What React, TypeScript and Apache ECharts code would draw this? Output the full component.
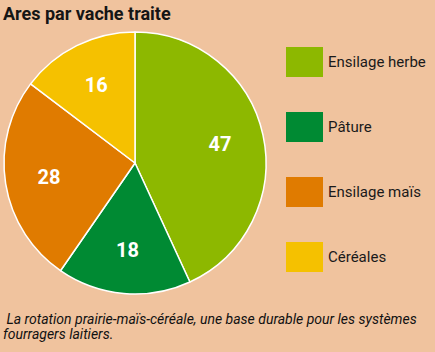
import React, { useEffect, useRef } from "react";
import * as echarts from "echarts";

const categories = ["Ensilage herbe", "Pâture", "Ensilage maïs", "Céréales"];
const values = [47, 18, 28, 16];
const colors = ["#8DB800", "#008A33", "#E07B00", "#F5C100"];
const titleText = "Ares par vache traite";
const captionLines = [
  " La rotation prairie-maïs-céréale, une base durable pour les systèmes",
  "fourragers laitiers.",
];

export default function App() {
  const ref = useRef<HTMLDivElement>(null);
  useEffect(() => {
    if (!ref.current) return;
    const chart = echarts.init(ref.current, null, { renderer: "svg" });
    const data = categories.map((name, i) => ({
      name,
      value: values[i],
      itemStyle: { color: colors[i] },
    }));
    chart.setOption({
      animation: false,
      backgroundColor: "#F0C39E",
      textStyle: { fontFamily: "Roboto" },
      title: {
        text: titleText,
        left: 3,
        top: 4,
        padding: 0,
        textStyle: { fontSize: 18, fontWeight: "bold", color: "#151515", fontFamily: "Roboto" },
      },
      legend: {
        orient: "vertical",
        left: 286,
        top: 47,
        padding: 0,
        itemWidth: 37,
        itemHeight: 30,
        itemGap: 35,
        icon: "rect",
        selectedMode: false,
        itemStyle: { borderWidth: 0 },
        data: categories,
        textStyle: { fontSize: 15, color: "#1a1a1a", fontFamily: "Roboto" },
      },
      graphic: captionLines.map((line, i) => ({
        type: "text",
        left: 3,
        top: 312 + i * 15,
        style: {
          text: line,
          font: "italic 14px Roboto",
          fill: "#111",
        },
      })),
      series: [
        {
          type: "pie",
          center: [135, 163],
          radius: [0, 131],
          startAngle: 90,
          clockwise: true,
          data,
          label: { show: false },
          labelLine: { show: false },
          itemStyle: { borderColor: "#ffffff", borderWidth: 1.5 },
          silent: true,
        },
        {
          type: "pie",
          center: [135, 163],
          radius: [42, 126],
          startAngle: 90,
          clockwise: true,
          data: categories.map((name, i) => ({ name: name + " ", value: values[i] })),
          itemStyle: { color: "rgba(0,0,0,0)" },
          label: {
            show: true,
            position: "inside",
            formatter: "{c}",
            color: "#ffffff",
            fontSize: 20,
            fontWeight: "bold",
            fontFamily: "Roboto",
          },
          labelLine: { show: false },
          silent: true,
        },
      ],
    });
    return () => chart.dispose();
  }, []);
  return (
    <div
      ref={ref}
      style={{ position: "fixed", left: 0, top: 0, width: 435, height: 352 }}
    />
  );
}
